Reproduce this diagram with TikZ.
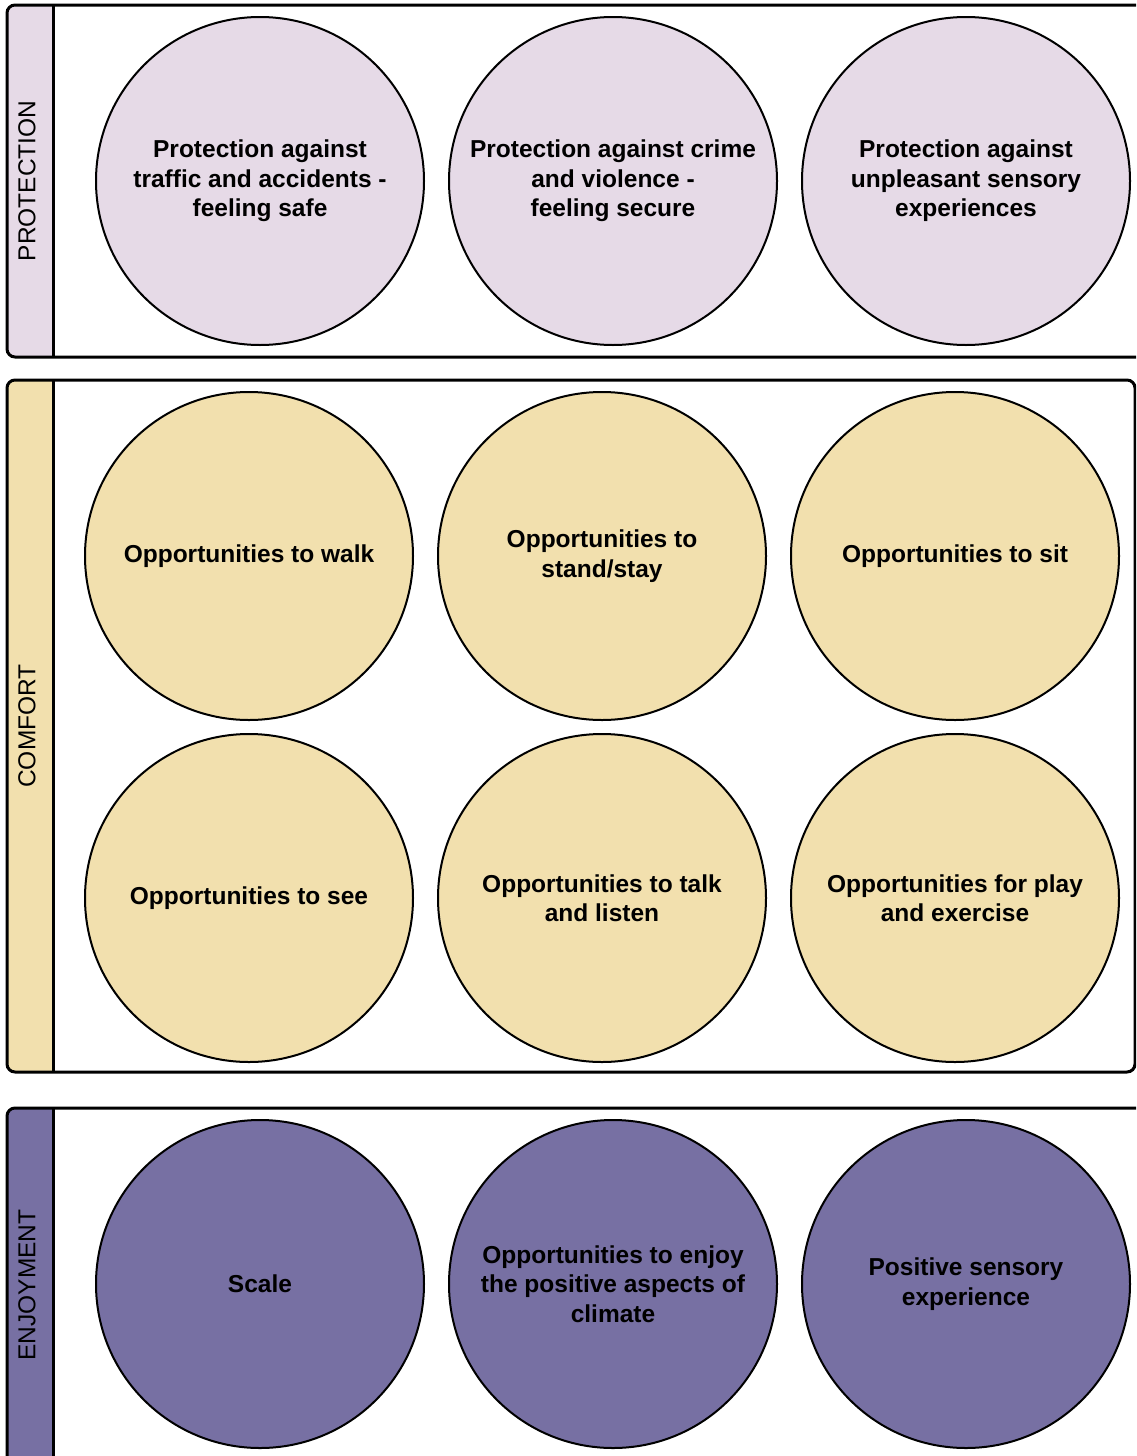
\documentclass[tikz,border=0pt]{standalone}
\usepackage{fontspec}
\setmainfont{Liberation Sans}
\definecolor{protfill}{HTML}{E6DAE7}
\definecolor{comffill}{HTML}{F2E0AE}
\definecolor{enjfill}{HTML}{7770A3}
\tikzset{
  need/.style={circle, draw, line width=2pt, minimum size=328pt, inner sep=0pt, align=center,
    font=\bfseries\fontsize{24.5}{29.5}\selectfont},
  tag/.style={rotate=90, inner sep=0pt, font=\fontsize{24.5}{29.5}\selectfont},
  band/.style={draw, line width=3pt, rounded corners=8pt}
}
% one band: top, bottom, right, colour
\newcommand{\bandbox}[4]{
  \begin{scope}
    \clip[rounded corners=8pt] (7,#1) rectangle (#3,#2);
    \fill[#4] (7,#1) rectangle (53,#2);
  \end{scope}
  \draw[line width=3pt] (53,#1) -- (53,#2);
  \draw[band] (7,#1) rectangle (#3,#2);
}

\begin{document}
\begin{tikzpicture}[x=1pt, y=-1pt]
\useasboundingbox (0,0) rectangle (1136,1456);
\clip (0,0) rectangle (1136,1456);

\bandbox{5}{357}{1150}{protfill}
\bandbox{380}{1072}{1135}{comffill}
\bandbox{1108}{1465}{1150}{enjfill}

\node[tag] (prot-tag) at (27,181) {PROTECTION};
\node[tag] (comf-tag) at (27,726) {COMFORT};
\node[tag] (enj-tag) at (27,1285) {ENJOYMENT};

\node[need, fill=protfill] (prot-1) at (260,181) {Protection against\\traffic and accidents -\\feeling safe};
\node[need, fill=protfill] (prot-2) at (613,181) {Protection against crime\\and violence -\\feeling secure};
\node[need, fill=protfill] (prot-3) at (966,181) {Protection against\\unpleasant sensory\\experiences};

\node[need, fill=comffill] (comf-1) at (249,556) {Opportunities to walk};
\node[need, fill=comffill] (comf-2) at (602,556) {Opportunities to\\stand/stay};
\node[need, fill=comffill] (comf-3) at (955,556) {Opportunities to sit};
\node[need, fill=comffill] (comf-4) at (249,898) {Opportunities to see};
\node[need, fill=comffill] (comf-5) at (602,898) {Opportunities to talk\\and listen};
\node[need, fill=comffill] (comf-6) at (955,898) {Opportunities for play\\and exercise};

\node[need, fill=enjfill] (enj-1) at (260,1284) {Scale};
\node[need, fill=enjfill] (enj-2) at (613,1284) {Opportunities to enjoy\\the positive aspects of\\climate};
\node[need, fill=enjfill] (enj-3) at (966,1284) {Positive sensory\\experience};
\end{tikzpicture}
\end{document}
